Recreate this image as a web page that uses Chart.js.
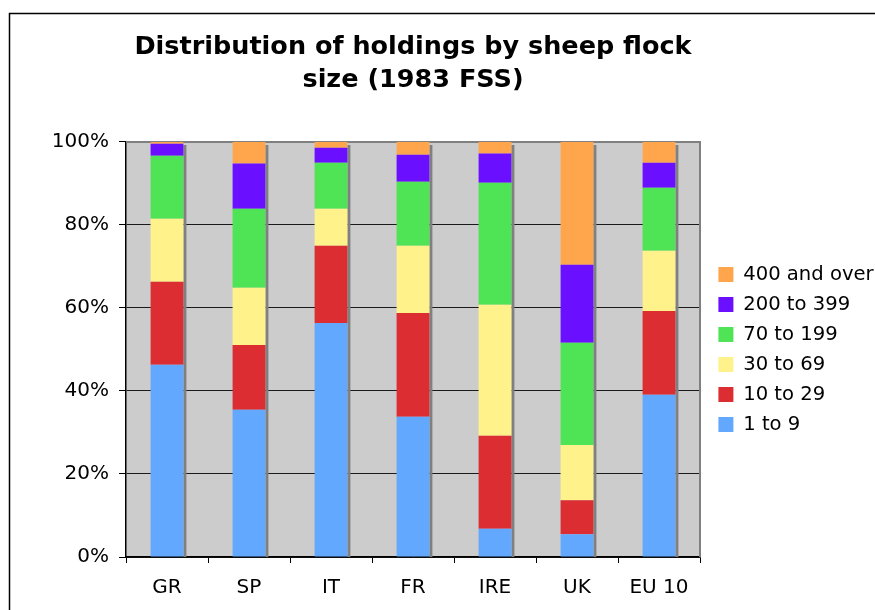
<!DOCTYPE html>
<html>
<head>
<meta charset="utf-8">
<script src="https://cdn.jsdelivr.net/npm/chart.js@4/dist/chart.umd.min.js"></script>
<style>
  html, body { margin: 0; padding: 0; background: #ffffff; }
  canvas { display: block; }
</style>
</head>
<body>
<canvas id="c" width="875" height="610"></canvas>
<script>
// ---- data (percent of holdings) ----
const categories = ['GR', 'SP', 'IT', 'FR', 'IRE', 'UK', 'EU 10'];
const seriesNames = ['1 to 9', '10 to 29', '30 to 69', '70 to 199', '200 to 399', '400 and over'];
const size1to9     = [46.3, 35.5, 56.4, 33.8,  6.8,  5.5, 39.1];
const size10to29   = [20.0, 15.6, 18.6, 25.0, 22.4,  8.2, 20.2];
const size30to69   = [15.2, 13.8,  8.9, 16.2, 31.6, 13.3, 14.5];
const size70to199  = [15.2, 19.0, 11.1, 15.4, 29.4, 24.6, 15.2];
const size200to399 = [ 2.9, 10.9,  3.6,  6.5,  7.0, 18.8,  6.0];
const size400plus  = [ 0.4,  5.2,  1.4,  3.1,  2.8, 29.6,  5.0];
const yTickValues = [0, 20, 40, 60, 80, 100];
const yTickLabels = ['0%', '20%', '40%', '60%', '80%', '100%'];
const titleLines = ['Distribution of holdings by sheep flock', 'size (1983 FSS)'];

const seriesValues = [size1to9, size10to29, size30to69, size70to199, size200to399, size400plus];
const seriesColors = ['#62A8FF', '#DC2E32', '#FFF28A', '#4FE356', '#6A0FFF', '#FFA64D'];

const FONT = "'DejaVu Sans', Verdana, sans-serif";

const framePlugin = {
  id: 'frame',
  beforeDraw(chart) {
    const ctx = chart.ctx;
    const a = chart.chartArea;
    ctx.save();
    // outer chart frame (top & left visible)
    ctx.strokeStyle = '#000';
    ctx.lineWidth = 1.5;
    ctx.beginPath();
    ctx.moveTo(9.5, 620);
    ctx.lineTo(9.5, 13.5);
    ctx.lineTo(900, 13.5);
    ctx.stroke();
    // plot background
    ctx.fillStyle = '#cccccc';
    ctx.fillRect(a.left, a.top, a.right - a.left, a.bottom - a.top);
    ctx.restore();
  },
  afterLayout(chart) {
    const lg = chart.legend;
    if (lg) { lg.left += 8; lg.right += 8; }
  },
  beforeDatasetsDraw(chart) {
    const ctx = chart.ctx;
    const a = chart.chartArea;
    ctx.save();
    // top & right gray border
    ctx.strokeStyle = '#808080';
    ctx.lineWidth = 2;
    ctx.beginPath();
    ctx.moveTo(a.left, a.top);
    ctx.lineTo(a.right, a.top);
    ctx.lineTo(a.right, a.bottom);
    ctx.stroke();
    // bar shadows
    const first = chart.getDatasetMeta(0);
    const last = chart.getDatasetMeta(chart.data.datasets.length - 1);
    ctx.fillStyle = '#808080';
    first.data.forEach((bar, i) => {
      const p = bar.getProps(['x', 'width'], true);
      const topY = last.data[i].getProps(['y'], true).y;
      const x = p.x + p.width / 2;
      ctx.fillRect(x, topY + 3, 3, a.bottom - topY - 3);
    });
    ctx.restore();
  }
};

new Chart(document.getElementById('c'), {
  type: 'bar',
  data: {
    labels: categories,
    datasets: seriesNames.map((name, i) => ({
      label: name,
      data: seriesValues[i],
      backgroundColor: seriesColors[i],
      borderWidth: 0,
      categoryPercentage: 1.0,
      barPercentage: 0.4
    }))
  },
  options: {
    responsive: false,
    animation: false,
    devicePixelRatio: 1,
    layout: { padding: 0 },
    plugins: {
      title: {
        display: true,
        text: titleLines,
        fullSize: false,
        color: '#000',
        font: { family: FONT, size: 25.5, weight: 'bold', lineHeight: 1.294 },
        padding: { top: 31, bottom: 45 }
      },
      legend: {
        display: true,
        position: 'right',
        align: 'center',
        fullSize: false,
        reverse: true,
        maxWidth: 175,
        labels: {
          color: '#000',
          font: { family: FONT, size: 19.6 },
          boxWidth: 15,
          boxHeight: 15,
          padding: 10.4
        }
      },
      tooltip: { enabled: false }
    },
    scales: {
      x: {
        stacked: true,
        grid: {
          offset: true,
          drawOnChartArea: false,
          drawTicks: true,
          tickLength: 6,
          tickColor: '#000',
          tickWidth: 1
        },
        border: { display: true, color: '#000', width: 1.5 },
        ticks: {
          color: '#000',
          font: { family: FONT, size: 20 },
          padding: 13,
          maxRotation: 0
        },
        afterFit(s) { s.height = 53; }
      },
      y: {
        stacked: true,
        min: 0,
        max: 100,
        afterBuildTicks(s) { s.ticks = yTickValues.map(v => ({ value: v })); },
        grid: {
          color: (c) => (c.tick && c.tick.value === 100) ? 'rgba(0,0,0,0)' : '#1a1a1a',
          lineWidth: 1,
          drawTicks: true,
          tickLength: 7,
          tickColor: '#000',
          tickWidth: 1
        },
        border: { display: true, color: '#000', width: 1.5 },
        ticks: {
          color: '#000',
          font: { family: FONT, size: 20 },
          padding: 10,
          callback: (v) => yTickLabels[yTickValues.indexOf(v)]
        },
        afterFit(s) { s.width = 126; }
      }
    }
  },
  plugins: [framePlugin]
});
</script>
</body>
</html>
